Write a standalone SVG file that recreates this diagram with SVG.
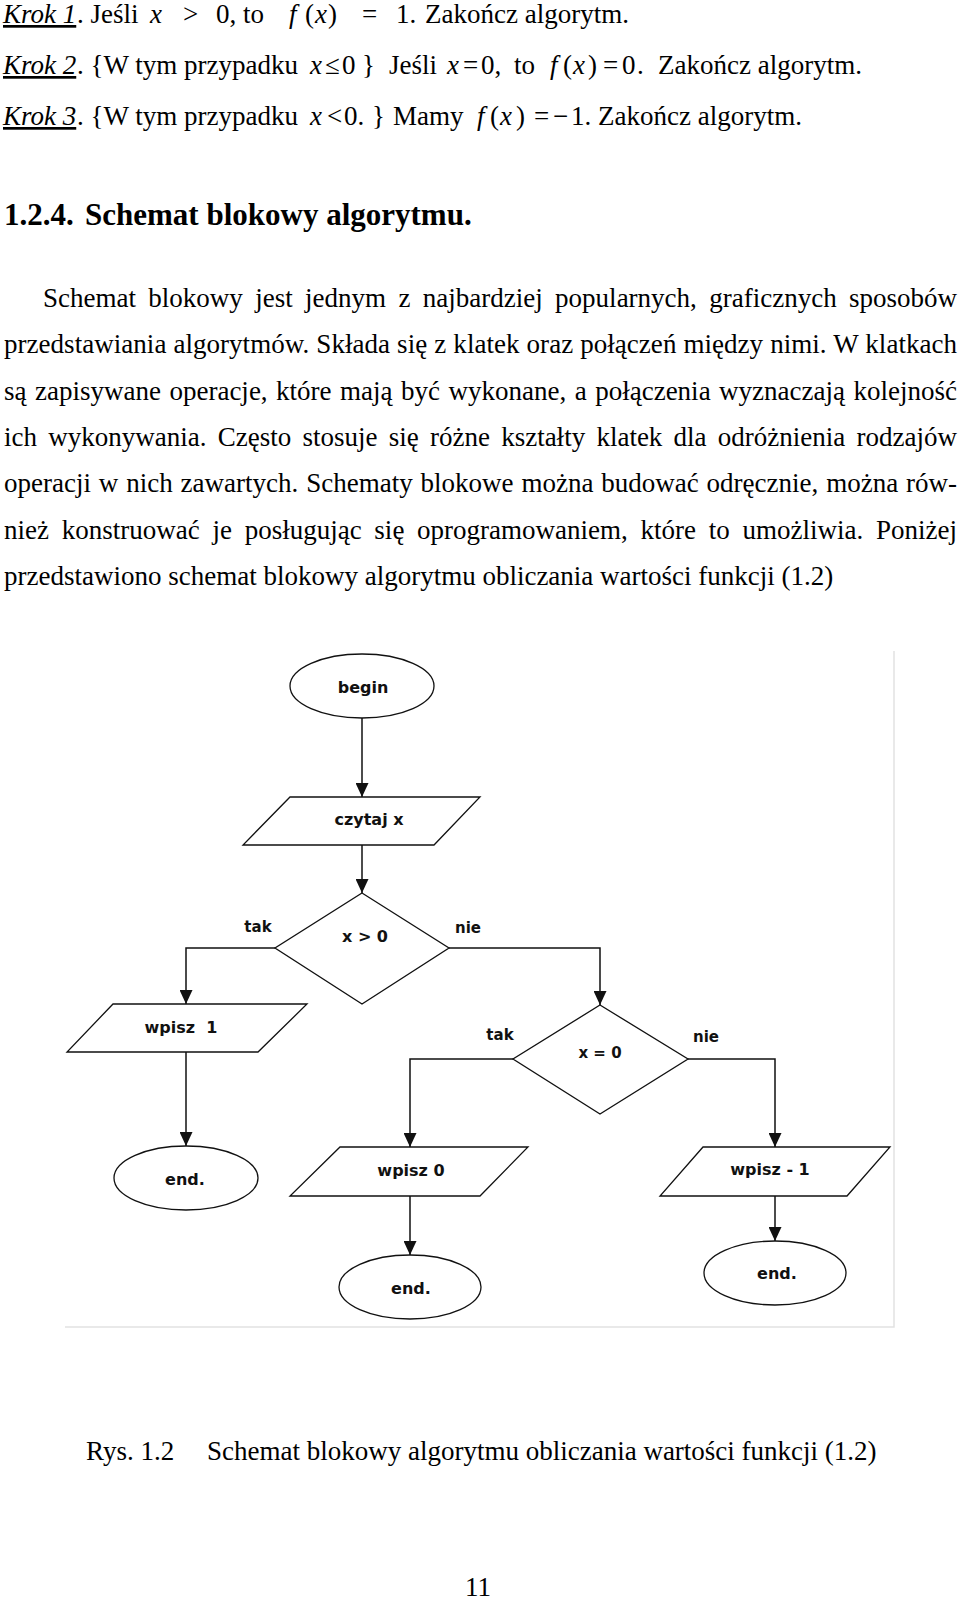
<svg xmlns="http://www.w3.org/2000/svg" width="960" height="1601" viewBox="0 0 960 1601">
<style>
.t{font-family:"Liberation Serif","Times New Roman",serif;font-size:27px;fill:#000}
.it{font-style:italic}
.u{text-decoration:underline}
.h{font-family:"Liberation Serif","Times New Roman",serif;font-size:31px;font-weight:bold;fill:#000}
.shape{fill:#fff;stroke:#111;stroke-width:1.3}
.lbl{font-family:"DejaVu Sans","Liberation Sans",sans-serif;font-size:16px;font-weight:bold;fill:#111;text-anchor:middle}
.sm{font-size:15px}
.con{fill:none;stroke:#111;stroke-width:1.5}
.frame{fill:none;stroke:#e2e2e2;stroke-width:1.5}
</style>
<defs>
<marker id="ah" markerUnits="userSpaceOnUse" markerWidth="14" markerHeight="13" refX="14" refY="6.5" orient="auto">
<path d="M0,0 L14,6.5 L0,13 Z" fill="#111"/>
</marker>
</defs>
<rect width="960" height="1601" fill="#fff"/>

<g id="steps">
<text class="t" y="23"><tspan x="3" class="it u">Krok 1</tspan><tspan x="77">. Jeśli</tspan><tspan x="150" class="it">x</tspan><tspan x="183">&gt;</tspan><tspan x="216">0, to</tspan><tspan x="289" class="it">f</tspan><tspan x="305">(</tspan><tspan x="315" class="it">x</tspan><tspan x="328">)</tspan><tspan x="362">=</tspan><tspan x="396">1.</tspan><tspan x="425">Zakończ algorytm.</tspan></text>
<text class="t" y="74"><tspan x="3" class="it u">Krok 2</tspan><tspan x="77">. {W tym przypadku</tspan><tspan x="310" class="it">x</tspan><tspan x="325">≤</tspan><tspan x="342">0</tspan><tspan x="362">}</tspan><tspan x="389">Jeśli</tspan><tspan x="447" class="it">x</tspan><tspan x="463">=</tspan><tspan x="481">0,</tspan><tspan x="514">to</tspan><tspan x="550" class="it">f</tspan><tspan x="563">(</tspan><tspan x="573" class="it">x</tspan><tspan x="588">)</tspan><tspan x="603">=</tspan><tspan x="622">0</tspan><tspan x="637">.</tspan><tspan x="658">Zakończ algorytm.</tspan></text>
<text class="t" y="125"><tspan x="3" class="it u">Krok 3</tspan><tspan x="77">. {W tym przypadku</tspan><tspan x="310" class="it">x</tspan><tspan x="327">&lt;</tspan><tspan x="344">0.</tspan><tspan x="372">}</tspan><tspan x="393">Mamy</tspan><tspan x="477" class="it">f</tspan><tspan x="490">(</tspan><tspan x="500" class="it">x</tspan><tspan x="516">)</tspan><tspan x="534">=</tspan><tspan x="553">−</tspan><tspan x="571">1.</tspan><tspan x="598">Zakończ algorytm.</tspan></text>
</g>

<g id="heading">
<text class="h" x="4" y="225">1.2.4.</text>
<text class="h" x="85" y="225">Schemat blokowy algorytmu.</text>
</g>

<g id="paragraph">
<text class="t" x="43" y="307" word-spacing="5.6" textLength="914" lengthAdjust="spacing">Schemat blokowy jest jednym z najbardziej popularnych, graficznych sposobów</text>
<text class="t" x="4" y="353.3" word-spacing="0.27" textLength="953" lengthAdjust="spacing">przedstawiania algorytmów. Składa się z klatek oraz połączeń między nimi. W klatkach</text>
<text class="t" x="4" y="399.6" word-spacing="1.73" textLength="953" lengthAdjust="spacing">są zapisywane operacje, które mają być wykonane, a połączenia wyznaczają kolejność</text>
<text class="t" x="4" y="445.9" word-spacing="4.49" textLength="953" lengthAdjust="spacing">ich wykonywania. Często stosuje się różne kształty klatek dla odróżnienia rodzajów</text>
<text class="t" x="4" y="492.2" word-spacing="1.13" textLength="953" lengthAdjust="spacing">operacji w nich zawartych. Schematy blokowe można budować odręcznie, można rów-</text>
<text class="t" x="4" y="538.5" word-spacing="5.99" textLength="953" lengthAdjust="spacing">nież konstruować je posługując się oprogramowaniem, które to umożliwia. Poniżej</text>
<text class="t" x="4" y="584.8">przedstawiono schemat blokowy algorytmu obliczania wartości funkcji (1.2)</text>
</g>

<g id="frame">
<polyline class="frame" points="894,651 894,1327 65,1327"/>
</g>

<g id="connectors">
<line class="con" x1="362" y1="718" x2="362" y2="797" marker-end="url(#ah)"/>
<line class="con" x1="362" y1="845" x2="362" y2="893" marker-end="url(#ah)"/>
<polyline class="con" points="275,948 186,948 186,1004" marker-end="url(#ah)"/>
<polyline class="con" points="449,948 600,948 600,1005" marker-end="url(#ah)"/>
<line class="con" x1="186" y1="1052" x2="186" y2="1146" marker-end="url(#ah)"/>
<polyline class="con" points="513,1059 410,1059 410,1147" marker-end="url(#ah)"/>
<polyline class="con" points="688,1059 775,1059 775,1147" marker-end="url(#ah)"/>
<line class="con" x1="410" y1="1196" x2="410" y2="1255" marker-end="url(#ah)"/>
<line class="con" x1="775" y1="1196" x2="775" y2="1241" marker-end="url(#ah)"/>
<text class="lbl sm" x="258" y="932">tak</text>
<text class="lbl sm" x="468" y="933">nie</text>
<text class="lbl sm" x="500" y="1040">tak</text>
<text class="lbl sm" x="706" y="1042">nie</text>
</g>

<g id="begin">
<ellipse class="shape" cx="362" cy="686" rx="72" ry="32"/>
<text class="lbl" x="363" y="693">begin</text>
</g>
<g id="read-x">
<polygon class="shape" points="290,797 480,797 434,845 243,845"/>
<text class="lbl" x="369" y="825">czytaj x</text>
</g>
<g id="cond-gt0">
<polygon class="shape" points="362,893 449,948 362,1004 275,948"/>
<text class="lbl" x="365" y="942">x &gt; 0</text>
</g>
<g id="write-1">
<polygon class="shape" points="113,1004 307,1004 258,1052 67,1052"/>
<text class="lbl" x="181" y="1033" xml:space="preserve">wpisz  1</text>
</g>
<g id="end-1">
<ellipse class="shape" cx="186" cy="1178" rx="72" ry="32"/>
<text class="lbl" x="185" y="1185">end.</text>
</g>
<g id="cond-eq0">
<polygon class="shape" points="600,1005 688,1059 600,1114 513,1059"/>
<text class="lbl sm" x="600" y="1058">x =  0</text>
</g>
<g id="write-0">
<polygon class="shape" points="340,1147 528,1147 480,1196 290,1196"/>
<text class="lbl" x="411" y="1176">wpisz 0</text>
</g>
<g id="end-2">
<ellipse class="shape" cx="410" cy="1287" rx="71" ry="32"/>
<text class="lbl" x="411" y="1294">end.</text>
</g>
<g id="write-m1">
<polygon class="shape" points="703,1147 890,1147 847,1196 660,1196"/>
<text class="lbl" x="770" y="1175">wpisz - 1</text>
</g>
<g id="end-3">
<ellipse class="shape" cx="775" cy="1273" rx="71" ry="32"/>
<text class="lbl" x="777" y="1279">end.</text>
</g>

<g id="caption">
<text class="t" x="86" y="1460">Rys. 1.2</text>
<text class="t" x="207" y="1460">Schemat blokowy algorytmu obliczania wartości funkcji (1.2)</text>
<text class="t" x="465" y="1596">11</text>
</g>
</svg>
